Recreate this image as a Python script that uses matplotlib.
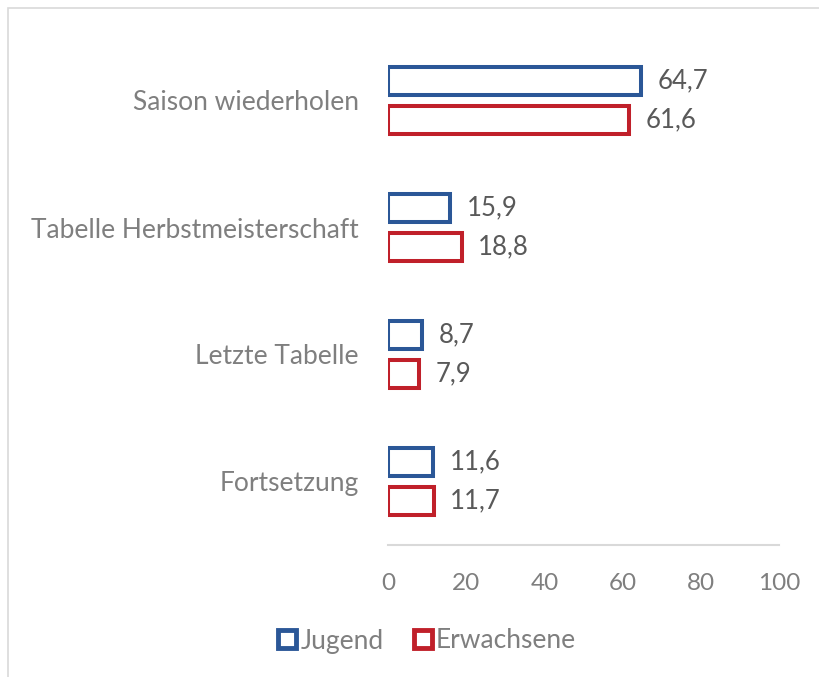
import matplotlib
matplotlib.use("Agg")
import matplotlib.pyplot as plt
from matplotlib.patches import Rectangle
from matplotlib.lines import Line2D
import numpy as np

categories = ["Saison wiederholen", "Tabelle Herbstmeisterschaft", "Letzte Tabelle", "Fortsetzung"]
jugend = [64.7, 15.9, 8.7, 11.6]
erwachsene = [61.6, 18.8, 7.9, 11.7]
series_names = ["Jugend", "Erwachsene"]
xticks = [0, 20, 40, 60, 80, 100]

blue = "#2b5797"
red = "#c0202a"

plt.rcParams['font.family'] = ['Lato', 'DejaVu Sans']

W, H = 819, 677
fig = plt.figure(figsize=(W/100, H/100), dpi=100)
# outer frame
fig.patches.append(Rectangle((8/W, -0.2), 1.2, 1.2 - 8/H, transform=fig.transFigure,
                             fill=False, edgecolor="#d9d9d9", linewidth=1.2))

ax = fig.add_axes([388/W, 1 - 545/H, (779-388)/W, (545-37)/H])
y = np.arange(len(categories))
h = 0.22
off = 0.154
lw = 2.9
ax.barh(y - off, jugend, height=h, facecolor="white", edgecolor=blue, linewidth=lw, label=series_names[0])
ax.barh(y + off, erwachsene, height=h, facecolor="white", edgecolor=red, linewidth=lw, label=series_names[1])

for yi, v in zip(y - off, jugend):
    ax.text(v + 4.2, yi, f"{v:.1f}".replace(".", ","), va="center", ha="left", fontsize=18.5, color="#595959")
for yi, v in zip(y + off, erwachsene):
    ax.text(v + 4.2, yi, f"{v:.1f}".replace(".", ","), va="center", ha="left", fontsize=18.5, color="#595959")

ax.set_ylim(len(categories) - 0.5, -0.5)
ax.set_xlim(0, 100)
ax.set_yticks(y)
ax.set_yticklabels(categories, fontsize=19, color="#7f7f7f")
ax.set_xticks(xticks)
ax.set_xticklabels([str(t) for t in xticks], fontsize=17.5, color="#7f7f7f")
ax.tick_params(axis="both", length=0)
ax.tick_params(axis="y", pad=21)
ax.tick_params(axis="x", pad=20)
for s in ["top", "right", "left"]:
    ax.spines[s].set_visible(False)
ax.spines["bottom"].set_color("#d9d9d9")
ax.spines["bottom"].set_linewidth(1.5)

handles = [Line2D([], [], marker="s", linestyle="none", markersize=13, markerfacecolor="white",
                  markeredgecolor=blue, markeredgewidth=3.5),
           Line2D([], [], marker="s", linestyle="none", markersize=13, markerfacecolor="white",
                  markeredgecolor=red, markeredgewidth=3.5)]
leg = fig.legend(handles, series_names, loc="center", bbox_to_anchor=(425/W, 1 - 641/H),
                 ncol=2, frameon=False, fontsize=19, handletextpad=0.0, columnspacing=1.0,
                 handlelength=1.0)
for t in leg.get_texts():
    t.set_color("#7f7f7f")

fig.savefig("out.png", dpi=100)
